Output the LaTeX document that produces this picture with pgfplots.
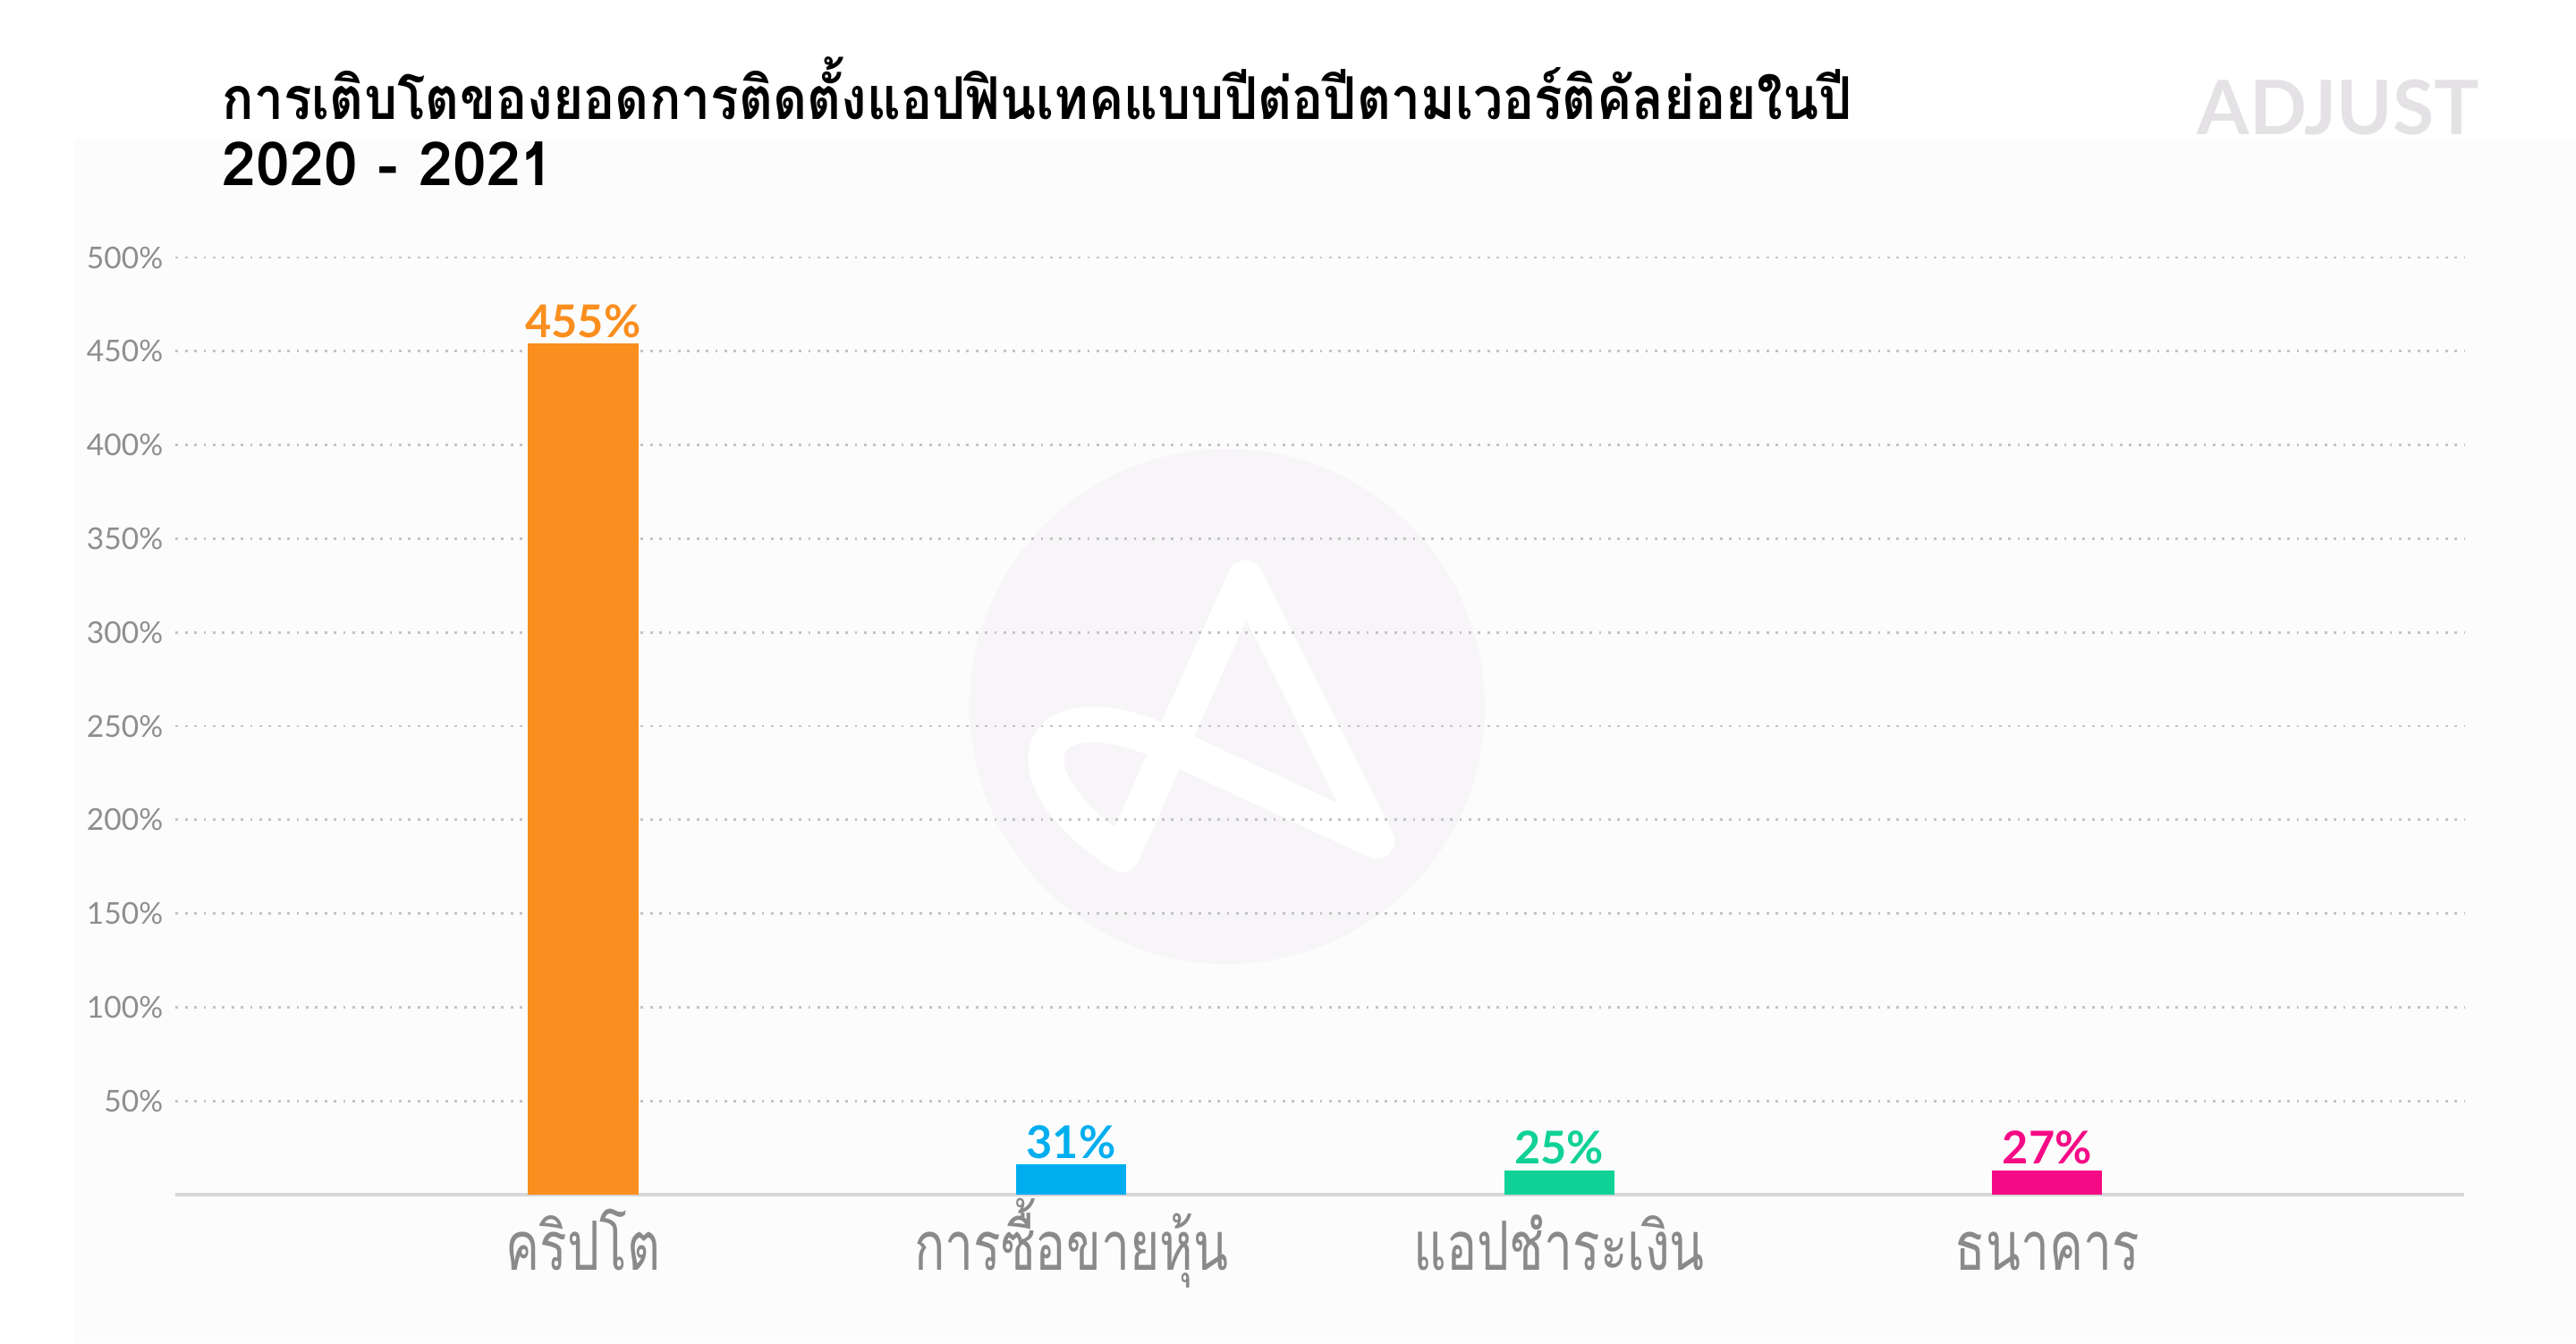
\documentclass[border=0pt]{standalone}
\usepackage{fontspec}
\usepackage{pgfplots}
\pgfplotsset{compat=1.18}
\setmainfont{Lato}
\newfontfamily\thaifont[Script=Thai]{Loma}
\newfontfamily\thaititle[Script=Thai, FakeStretch=0.89]{Loma}
\newfontfamily\thaicat[Script=Thai, FakeStretch=0.75]{Loma}

\definecolor{cOrange}{HTML}{FA8E1E}
\definecolor{cBlue}{HTML}{00AEEF}
\definecolor{cGreen}{HTML}{10D196}
\definecolor{cPink}{HTML}{F50A85}
\definecolor{gridgray}{HTML}{C4C4C4}
\definecolor{basegray}{HTML}{D6D6D8}
\definecolor{tickgray}{HTML}{8E8E8E}
\definecolor{labgray}{HTML}{8A8A8A}
\definecolor{panel}{HTML}{FCFCFC}
\definecolor{wmark}{HTML}{F7F5F8}
\definecolor{logogray}{HTML}{E4E2E5}

\begin{document}
\begin{tikzpicture}
\useasboundingbox (0,0) rectangle (720pt,375.5pt);
\fill[white] (0,0) rectangle (720pt,375.5pt);
\fill[panel] (20.7pt,0) rectangle (720pt,336.5pt);
% watermark
\fill[wmark] (343pt,178pt) circle (72pt);
\draw[white, line width=10pt, line cap=round, line join=round]
  (313.6pt,136.7pt) -- (348.1pt,213.9pt) -- (384.8pt,140.4pt)
  -- (328.3pt,166.6pt) .. controls (290pt,185pt) and (278pt,160pt) .. (313.6pt,136.7pt);

\node[anchor=base west, inner sep=0pt] at (62pt,342pt)
  {\thaititle\bfseries\fontsize{16.5}{18}\selectfont การเติบโตของยอดการติดตั้งแอปฟินเทคแบบปีต่อปีตามเวอร์ติคัลย่อยในปี};
\node[anchor=base west, inner sep=0pt] at (62pt,323.6pt)
  {\thaifont\bfseries\fontsize{17}{18}\selectfont 2020 - 2021};
\node[anchor=base west, inner sep=0pt, text=logogray] at (614pt,337.8pt)
  {\bfseries\fontsize{21}{22}\selectfont ADJUST};

\begin{axis}[
  at={(49.1pt,41.5pt)}, anchor=south west,
  scale only axis, width=639.7pt, height=262pt,
  xmin=-0.835, xmax=3.855, ymin=0, ymax=500,
  axis line style={draw=none},
  major tick length=0pt,
  ytick={50,100,...,500},
  yticklabel={\pgfmathprintnumber[assume math mode=true]{\tick}\%},
  yticklabel style={font=\fontsize{8.4}{9}\selectfont, text=tickgray},
  ymajorgrids,
  major grid style={gridgray, line width=0.7pt, dash pattern=on 0.7pt off 1.9pt},
  extra y ticks={0}, extra y tick labels={},
  extra y tick style={ymajorgrids, major grid style={solid, basegray, line width=0.9pt}},
  xtick={0,1,2,3},
  xticklabels={คริปโต,การซื้อขายหุ้น,แอปชำระเงิน,ธนาคาร},
  xticklabel style={font=\thaicat\fontsize{19}{20}\selectfont, text=labgray, anchor=base, yshift=-21pt},
  ybar, bar width=30.8pt,
  point meta=explicit symbolic,
  nodes near coords={\pgfplotspointmeta\%},
  every node near coord/.append style={font=\bfseries\fontsize{12.6}{13}\selectfont, inner sep=1.5pt},
  clip=false,
]
\addplot[fill=cOrange, draw=none, bar shift=0pt, every node near coord/.append style={text=cOrange}]
  coordinates {(0,454) [455]};
\addplot[fill=cBlue, draw=none, bar shift=0pt, every node near coord/.append style={text=cBlue}]
  coordinates {(1,16) [31]};
\addplot[fill=cGreen, draw=none, bar shift=0pt, every node near coord/.append style={text=cGreen}]
  coordinates {(2,13) [25]};
\addplot[fill=cPink, draw=none, bar shift=0pt, every node near coord/.append style={text=cPink}]
  coordinates {(3,13) [27]};
\end{axis}
\end{tikzpicture}
\end{document}
